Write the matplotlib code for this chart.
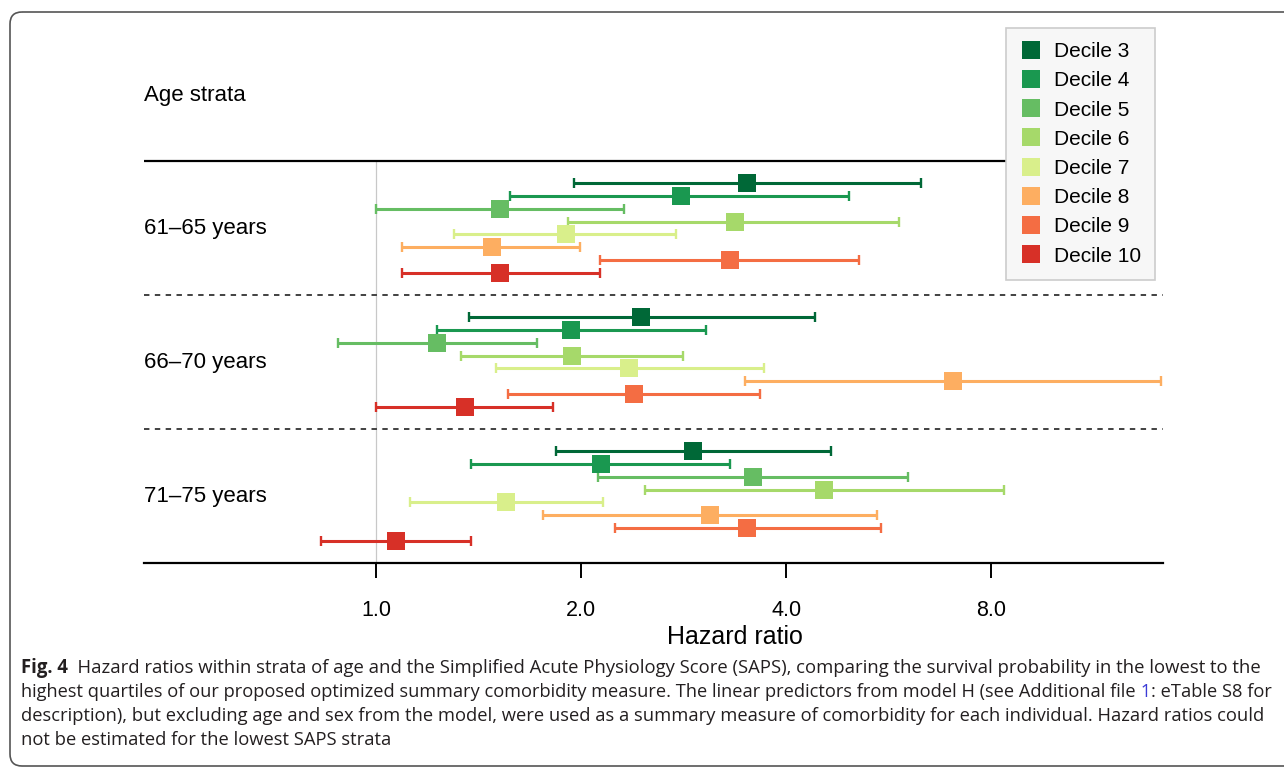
import matplotlib
matplotlib.use("Agg")
import matplotlib.pyplot as plt
from matplotlib.lines import Line2D
from matplotlib.patches import FancyBboxPatch
from matplotlib.transforms import Affine2D, blended_transform_factory

plt.rcParams['font.family'] = ['Liberation Sans', 'DejaVu Sans']

# ---- data ----
strata = ["61\u201365 years", "66\u201370 years", "71\u201375 years"]
deciles = ["Decile 3", "Decile 4", "Decile 5", "Decile 6",
           "Decile 7", "Decile 8", "Decile 9", "Decile 10"]
colors = ["#006837", "#1a9850", "#66bd63", "#a6d96a",
          "#d9ef8b", "#fdae61", "#f46d43", "#d73027"]

hr = [[3.51, 2.80, 1.52, 3.36, 1.90, 1.48, 3.31, 1.52],
      [2.45, 1.93, 1.23, 1.94, 2.35, 7.04, 2.39, 1.35],
      [2.92, 2.14, 3.58, 4.55, 1.55, 3.09, 3.51, 1.07]]
lo = [[1.95, 1.57, 1.00, 1.91, 1.30, 1.09, 2.13, 1.09],
      [1.37, 1.23, 0.88, 1.33, 1.50, 3.48, 1.56, 1.00],
      [1.84, 1.38, 2.12, 2.48, 1.12, 1.76, 2.24, 0.83]]
hi = [[6.31, 4.95, 2.31, 5.86, 2.76, 1.99, 5.12, 2.13],
      [4.41, 3.05, 1.72, 2.82, 3.71, 14.2, 3.66, 1.82],
      [4.66, 3.31, 6.04, 8.35, 2.15, 5.44, 5.52, 1.38]]

xticks = [1, 2, 4, 8]
xticklabels = ["1.0", "2.0", "4.0", "8.0"]

caption = [
    [("Fig. 4", dict(weight='bold')),
     ("  Hazard ratios within strata of age and the Simplified Acute Physiology Score (SAPS), "
      "comparing the survival probability in the lowest to the", {})],
    [("highest quartiles of our proposed optimized summary comorbidity measure. The linear "
      "predictors from model H (see Additional file", {}),
     (" 1", dict(color='#3b3bd6')),
     (": eTable S8 for", {})],
    [("description), but excluding age and sex from the model, were used as a summary measure "
      "of comorbidity for each individual. Hazard ratios could", {})],
    [("not be estimated for the lowest SAPS strata", {})],
]
# right end of each caption line in the reference, in pixels (None = ragged last line)
caption_ends = [1257, 1269, 1257, None]

# ---- figure ----
W, H = 1284, 768
fig = plt.figure(figsize=(W / 100, H / 100), dpi=100)
pix = Affine2D().scale(1 / W, -1 / H).translate(0, 1) + fig.transFigure

frame = FancyBboxPatch((10, 12), 1400, 754, boxstyle='round,pad=0,rounding_size=12',
                       transform=pix, fill=False, edgecolor='#555555', lw=1.2)
fig.add_artist(frame)

ax = fig.add_axes([144 / W, 1 - 563 / H, 1019 / W, 491.3 / H])
ax.set_xscale('log', base=2)
ax.set_xlim(0.456, 14.31)
ax.set_ylim(31.5, -7)

group_h = 10.5
for g in range(len(strata)):
    for i in range(len(deciles)):
        y = g * group_h + 1.75 + i
        ax.errorbar(hr[g][i], y, xerr=[[hr[g][i] - lo[g][i]], [hi[g][i] - hr[g][i]]],
                    fmt='none', ecolor=colors[i], elinewidth=2.2, capsize=3.4,
                    capthick=1.7, zorder=3)
        ax.plot(hr[g][i], y, marker='s', ls='none', color=colors[i], ms=13.5,
                mew=0, zorder=4)

# reference line and separators
ax.plot([1, 1], [0, 31.5], color='#c8c8c8', lw=0.9, zorder=0)
ax.axhline(0, xmax=0.85, color='black', lw=1.6)
for g in range(1, len(strata)):
    ax.axhline(g * group_h, color='#333333', lw=1.3, ls=(0, (3, 3)))

lab_tr = blended_transform_factory(ax.transAxes, ax.transData)
ax.text(0, -5.17, "Age strata", transform=lab_tr, fontsize=16, va='center', ha='left')
for g, name in enumerate(strata):
    ax.text(0, g * group_h + group_h / 2, name, transform=lab_tr, fontsize=16,
            va='center', ha='left')

for s in ['top', 'left', 'right']:
    ax.spines[s].set_visible(False)
ax.spines['bottom'].set_linewidth(1.6)
ax.set_yticks([])
ax.set_xticks(xticks)
ax.set_xticklabels(xticklabels)
ax.minorticks_off()
ax.tick_params(axis='x', length=11, width=1.4, pad=15.5, labelsize=15.5)

fig.text(735, 644, "Hazard ratio", transform=pix, fontsize=18, ha='center', va='baseline')

handles = [Line2D([], [], marker='s', ls='none', color=c, ms=13, mew=0) for c in colors]
leg = ax.legend(handles, deciles, loc='upper left', bbox_to_anchor=(1006 / W, 1 - 28 / H),
                bbox_transform=fig.transFigure, fancybox=False, framealpha=1,
                facecolor='#f7f7f7', edgecolor='#cccccc', fontsize=15,
                labelspacing=0.49, borderpad=0.68, handlelength=1.0,
                handletextpad=0.62, borderaxespad=0)
leg.get_frame().set_linewidth(1.2)
leg.set_zorder(5)

# ---- caption ----
renderer = fig.canvas.get_renderer()


def caption_line(x, y, parts, size):
    texts = []
    for s, kw in parts:
        style = dict(color='#231f20')
        style.update(kw)
        t = fig.text(x, y, s, transform=pix, fontsize=size, family='Open Sans',
                     va='baseline', ha='left', **style)
        x += t.get_window_extent(renderer).width
        texts.append(t)
    return x, texts


size = 12
for k, parts in enumerate(caption):
    if caption_ends[k] is not None:
        end, tmp = caption_line(21, 0, parts, 12)
        for t in tmp:
            t.remove()
        size = 12 * (caption_ends[k] - 21) / (end - 21)
    caption_line(21, 673 + 24 * k, parts, size)

fig.savefig("out.png", dpi=100)
